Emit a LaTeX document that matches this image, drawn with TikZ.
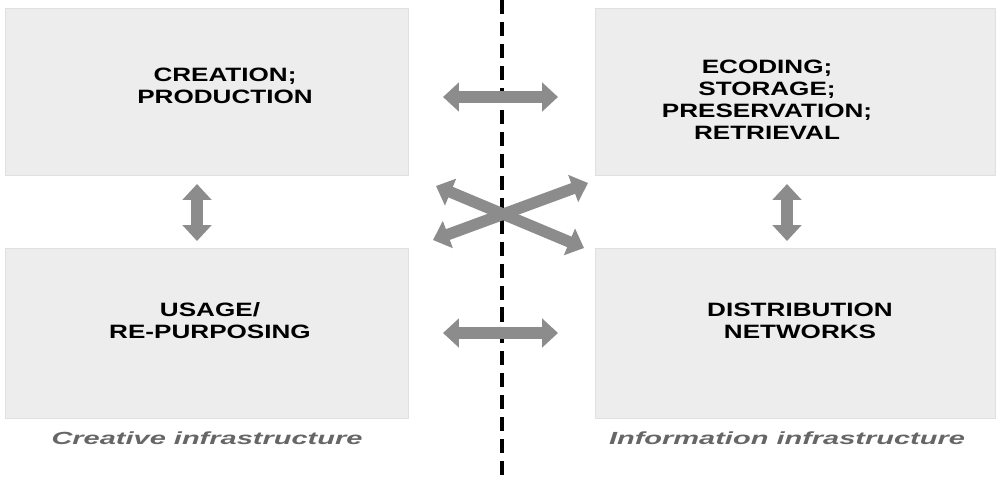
\documentclass[tikz,border=0pt]{standalone}
\usepackage{fontspec}
\setmainfont{Liberation Sans}
\usetikzlibrary{arrows.meta}
\begin{document}
\begin{tikzpicture}[x=0.02cm,y=-0.02cm,
  box/.style={draw=black!12,fill=black!7,line width=0.8pt},
  lbl/.style={font=\fontsize{11pt}{12.5pt}\selectfont\bfseries,align=center,xscale=1.35},
  captext/.style={font=\fontsize{10pt}{11pt}\selectfont\bfseries\itshape,text=black!60,xscale=1.65},
  dbl/.style={draw=black!45,line width=6.5pt,{Triangle[width=16pt,length=9pt]}-{Triangle[width=16pt,length=9pt]}}]
\useasboundingbox (0,0) rectangle (1000,477);
\node[box,minimum width=403*0.02cm,minimum height=167*0.02cm,anchor=north west] (cp) at (5,8) {};
\node[box,minimum width=400*0.02cm,minimum height=167*0.02cm,anchor=north west] (es) at (595,8) {};
\node[box,minimum width=403*0.02cm,minimum height=170*0.02cm,anchor=north west] (ur) at (5,248) {};
\node[box,minimum width=400*0.02cm,minimum height=170*0.02cm,anchor=north west] (dn) at (595,248) {};
\node[lbl] (t1) at (225,86) {CREATION;\\PRODUCTION};
\node[lbl] (t2) at (767,100) {ECODING;\\STORAGE;\\PRESERVATION;\\RETRIEVAL};
\node[lbl] (t3) at (210,321) {USAGE/\\RE-PURPOSING};
\node[lbl] (t4) at (800,321) {DISTRIBUTION\\NETWORKS};
\node[captext] (c1) at (207,438) {Creative infrastructure};
\node[captext] (c2) at (787,438) {Information infrastructure};
\coordinate (dt) at (502,0); \coordinate (db) at (502,477);
\draw[line width=2.4pt,dash pattern=on 8pt off 4.5pt] (dt) -- (db);
\coordinate (a1) at (443,97); \coordinate (a2) at (558,97);
\coordinate (b1) at (443,333); \coordinate (b2) at (558,333);
\coordinate (v1) at (197,184); \coordinate (v2) at (197,241);
\coordinate (w1) at (787,184); \coordinate (w2) at (787,241);
\coordinate (x1) at (433,240); \coordinate (x2) at (588,183);
\coordinate (y1) at (436,186); \coordinate (y2) at (584,248);
\draw[dbl] (a1) -- (a2);
\draw[dbl] (b1) -- (b2);
\draw[dbl] (v1) -- (v2);
\draw[dbl] (w1) -- (w2);
\draw[dbl] (x1) -- (x2);
\draw[dbl] (y1) -- (y2);
\end{tikzpicture}
\end{document}
